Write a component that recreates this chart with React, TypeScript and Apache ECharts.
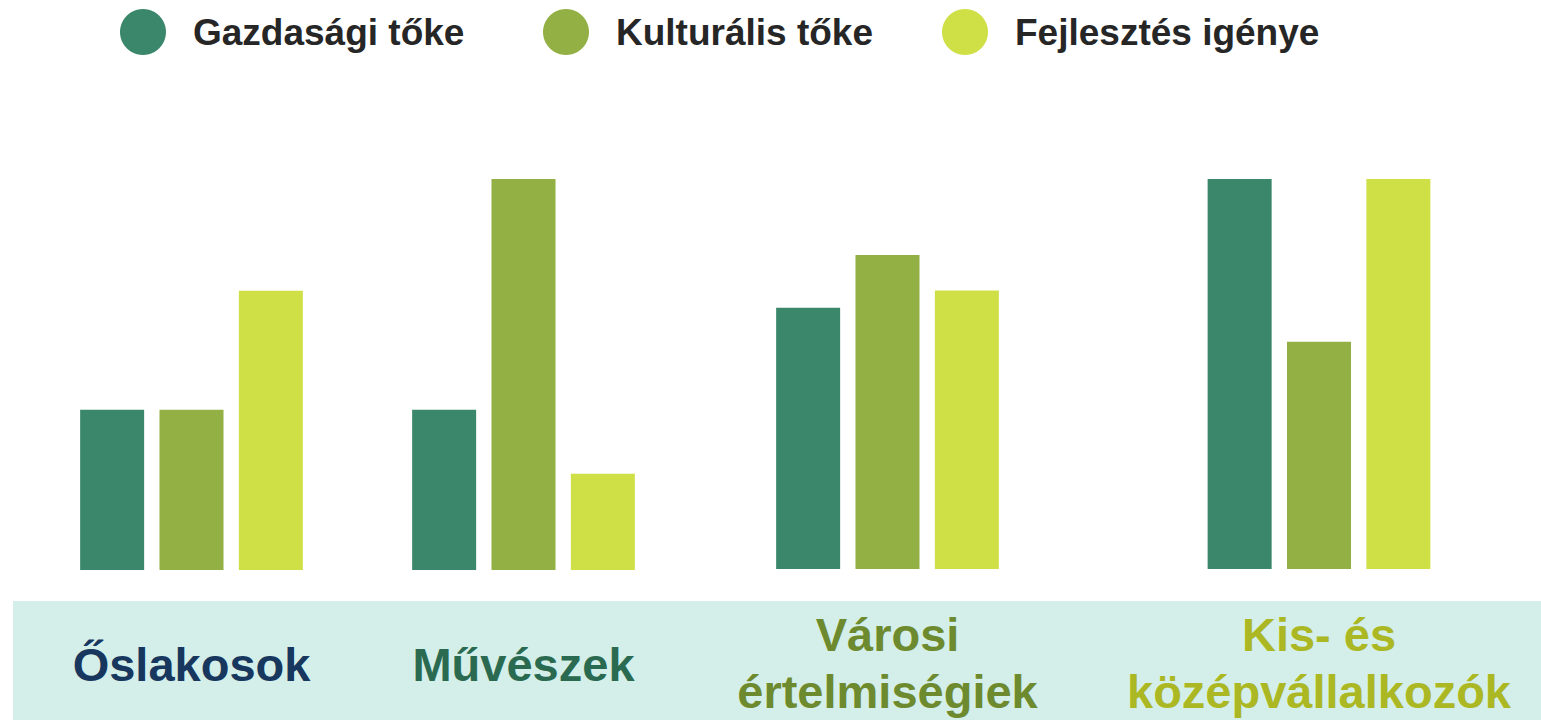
import React, { useEffect, useRef } from "react";
import * as echarts from "echarts";

const categories = ["Őslakosok", "Művészek", "Városi\nértelmiségiek", "Kis- és\nközépvállalkozók"];
const seriesNames = ["Gazdasági tőke", "Kulturális tőke", "Fejlesztés igénye"];
const gazdasagi = [41, 41, 67, 100];
const kulturalis = [41, 100, 80.5, 58.3];
const fejlesztes = [71.4, 24.6, 71.4, 100];

const seriesColors = ["#3a876b", "#92b043", "#cfdf46"];
const labelColors = ["#17375e", "#2a6a50", "#6e8a2e", "#abb823"];
const groupCenters = [191.5, 523.5, 887.5, 1319];
const legendLefts = [115, 538, 937];

const FONT = '"Liberation Sans", Arial, sans-serif';

export default function App() {
  const ref = useRef<HTMLDivElement>(null);
  useEffect(() => {
    if (!ref.current) return;
    const chart = echarts.init(ref.current, null, { renderer: "svg" });
    const values = [gazdasagi, kulturalis, fejlesztes];
    const gridW = 300;
    const grids = categories.map((_, i) => ({
      left: groupCenters[i] - gridW / 2,
      width: gridW,
      top: 179,
      height: 391,
      containLabel: false,
    }));
    const xAxes = categories.map((c, i) => ({
      type: "category",
      gridIndex: i,
      data: [c],
      axisLine: { show: false },
      axisTick: { show: false },
      axisLabel: {
        margin: 94,
        verticalAlign: "middle",
        color: labelColors[i],
        fontSize: 47,
        fontWeight: "bold",
        fontFamily: FONT,
        lineHeight: 57,
        align: "center",
      },
    }));
    const yAxes = categories.map((_, i) => ({
      type: "value",
      gridIndex: i,
      min: 0,
      max: 100,
      show: false,
      splitLine: { show: false },
    }));
    const series: any[] = [];
    categories.forEach((_, i) => {
      seriesNames.forEach((name, s) => {
        series.push({
          type: "bar",
          name,
          xAxisIndex: i,
          yAxisIndex: i,
          data: [values[s][i]],
          barWidth: 64,
          barGap: "24%",
          itemStyle: { color: seriesColors[s] },
          emphasis: { disabled: true },
        });
      });
    });
    const legends = seriesNames.map((name, s) => ({
      data: [name],
      left: legendLefts[s],
      top: 4,
      icon: "circle",
      itemWidth: 46,
      itemHeight: 46,
      selectedMode: false,
      textStyle: {
        fontSize: 37,
        fontWeight: "bold",
        color: "#262626",
        fontFamily: FONT,
        padding: [0, 0, 0, 22],
      },
    }));
    chart.setOption({
      animation: false,
      backgroundColor: "#ffffff",
      color: seriesColors,
      legend: legends,
      grid: grids,
      xAxis: xAxes,
      yAxis: yAxes,
      series,
      graphic: [
        {
          type: "rect",
          left: 13,
          top: 601,
          z: -10,
          shape: { width: 1528, height: 119 },
          style: { fill: "#d4efe9" },
        },
      ],
    });
    return () => chart.dispose();
  }, []);
  return (
    <div
      ref={ref}
      style={{ position: "fixed", left: 0, top: 0, width: 1541, height: 720 }}
    />
  );
}
